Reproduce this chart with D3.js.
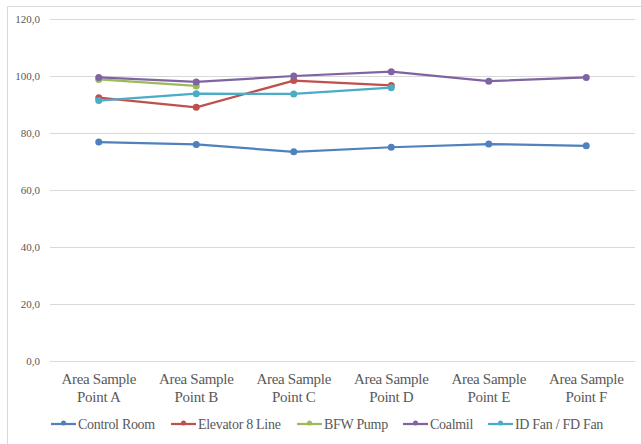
<!DOCTYPE html>
<html>
<head>
<meta charset="utf-8">
<script src="https://cdn.jsdelivr.net/npm/d3@7/dist/d3.min.js"></script>
<style>
  html, body { margin: 0; padding: 0; background: #fff; }
  svg { display: block; }
  .serif { font-family: "Liberation Serif", "Times New Roman", Times, "DejaVu Serif", serif; }
</style>
</head>
<body>
<svg id="chart" width="641" height="444"></svg>
<script>
// Sample points along the x axis
const categories = ["Area Sample Point A", "Area Sample Point B", "Area Sample Point C",
                    "Area Sample Point D", "Area Sample Point E", "Area Sample Point F"];

// Measured values per location (null = not measured)
const controlRoom  = [76.8, 76.0, 73.4, 75.0, 76.1, 75.5];
const elevator8    = [92.4, 89.0, 98.4, 96.7, null, null];
const bfwPump      = [98.8, 96.5, null, null, null, null];
const coalmil      = [99.5, 97.9, 100.0, 101.5, 98.2, 99.5];
const idFan        = [91.4, 93.8, 93.7, 95.9, null, null];

const seriesNames  = ["Control Room", "Elevator 8 Line", "BFW Pump", "Coalmil", "ID Fan / FD Fan"];
const seriesColors = ["#4F81BD", "#C0504D", "#9BBB59", "#8064A2", "#4BACC6"];
const seriesValues = [controlRoom, elevator8, bfwPump, coalmil, idFan];

const yTicks = [0, 20, 40, 60, 80, 100, 120];

const svg = d3.select("#chart");

// Outer chart frame
svg.append("path")
  .attr("d", "M7.5,444 L7.5,6.5 L641,6.5")
  .attr("fill", "none")
  .attr("stroke", "#d9d9d9")
  .attr("stroke-width", 1);

const x = d3.scaleBand().domain(categories).range([50, 635]);
const y = d3.scaleLinear().domain([0, 120]).range([361, 19]);

// Gridlines
svg.append("g")
  .selectAll("line")
  .data(yTicks)
  .join("line")
  .attr("x1", 50).attr("x2", 635)
  .attr("y1", d => Math.round(y(d)) + 0.5)
  .attr("y2", d => Math.round(y(d)) + 0.5)
  .attr("stroke", "#d9d9d9")
  .attr("stroke-width", 1);

// Y axis labels
const fmt = d => d.toFixed(1).replace(".", ",");
svg.append("g")
  .attr("class", "serif")
  .selectAll("text")
  .data(yTicks)
  .join("text")
  .attr("x", 40)
  .attr("y", d => y(d) + 4)
  .attr("text-anchor", "end")
  .attr("font-size", 11)
  .attr("fill", "#595959")
  .text(fmt);

// Category labels (two lines)
const catG = svg.append("g")
  .attr("class", "serif")
  .attr("font-size", 15)
  .attr("fill", "#595959")
  .attr("text-anchor", "middle");
categories.forEach(c => {
  const cx = x(c) + x.bandwidth() / 2;
  const words = c.split(" ");
  const t = catG.append("text").attr("x", cx).attr("y", 384).attr("letter-spacing", -0.3);
  t.append("tspan").attr("x", cx).attr("dy", 0).text(words.slice(0, 2).join(" "));
  t.append("tspan").attr("x", cx).attr("dy", 18).text(words.slice(2).join(" "));
});

// Lines and markers
const line = d3.line()
  .defined(d => d.v !== null)
  .x(d => x(d.c) + x.bandwidth() / 2)
  .y(d => y(d.v));

seriesValues.forEach((vals, i) => {
  const pts = vals.map((v, j) => ({ c: categories[j], v }));
  const g = svg.append("g");
  g.append("path")
    .datum(pts)
    .attr("d", line)
    .attr("fill", "none")
    .attr("stroke", seriesColors[i])
    .attr("stroke-width", 2.25)
    .attr("stroke-linejoin", "round")
    .attr("stroke-linecap", "round");
  g.selectAll("circle")
    .data(pts.filter(d => d.v !== null))
    .join("circle")
    .attr("cx", d => x(d.c) + x.bandwidth() / 2)
    .attr("cy", d => y(d.v))
    .attr("r", 3.5)
    .attr("fill", seriesColors[i]);
});

// Legend
const legendX = [51, 171, 297, 403, 488];
const legend = svg.append("g")
  .attr("class", "serif")
  .attr("font-size", 14)
  .attr("fill", "#595959");
seriesNames.forEach((name, i) => {
  const lx = legendX[i];
  const ly = 424;
  legend.append("line")
    .attr("x1", lx).attr("x2", lx + 25)
    .attr("y1", ly).attr("y2", ly)
    .attr("stroke", seriesColors[i])
    .attr("stroke-width", 2.25);
  legend.append("circle")
    .attr("cx", lx + 12.5).attr("cy", ly - 1)
    .attr("r", 2.5)
    .attr("fill", seriesColors[i]);
  legend.append("text")
    .attr("x", lx + 27)
    .attr("y", ly + 5)
    .attr("letter-spacing", -0.3)
    .text(name);
});
</script>
</body>
</html>
